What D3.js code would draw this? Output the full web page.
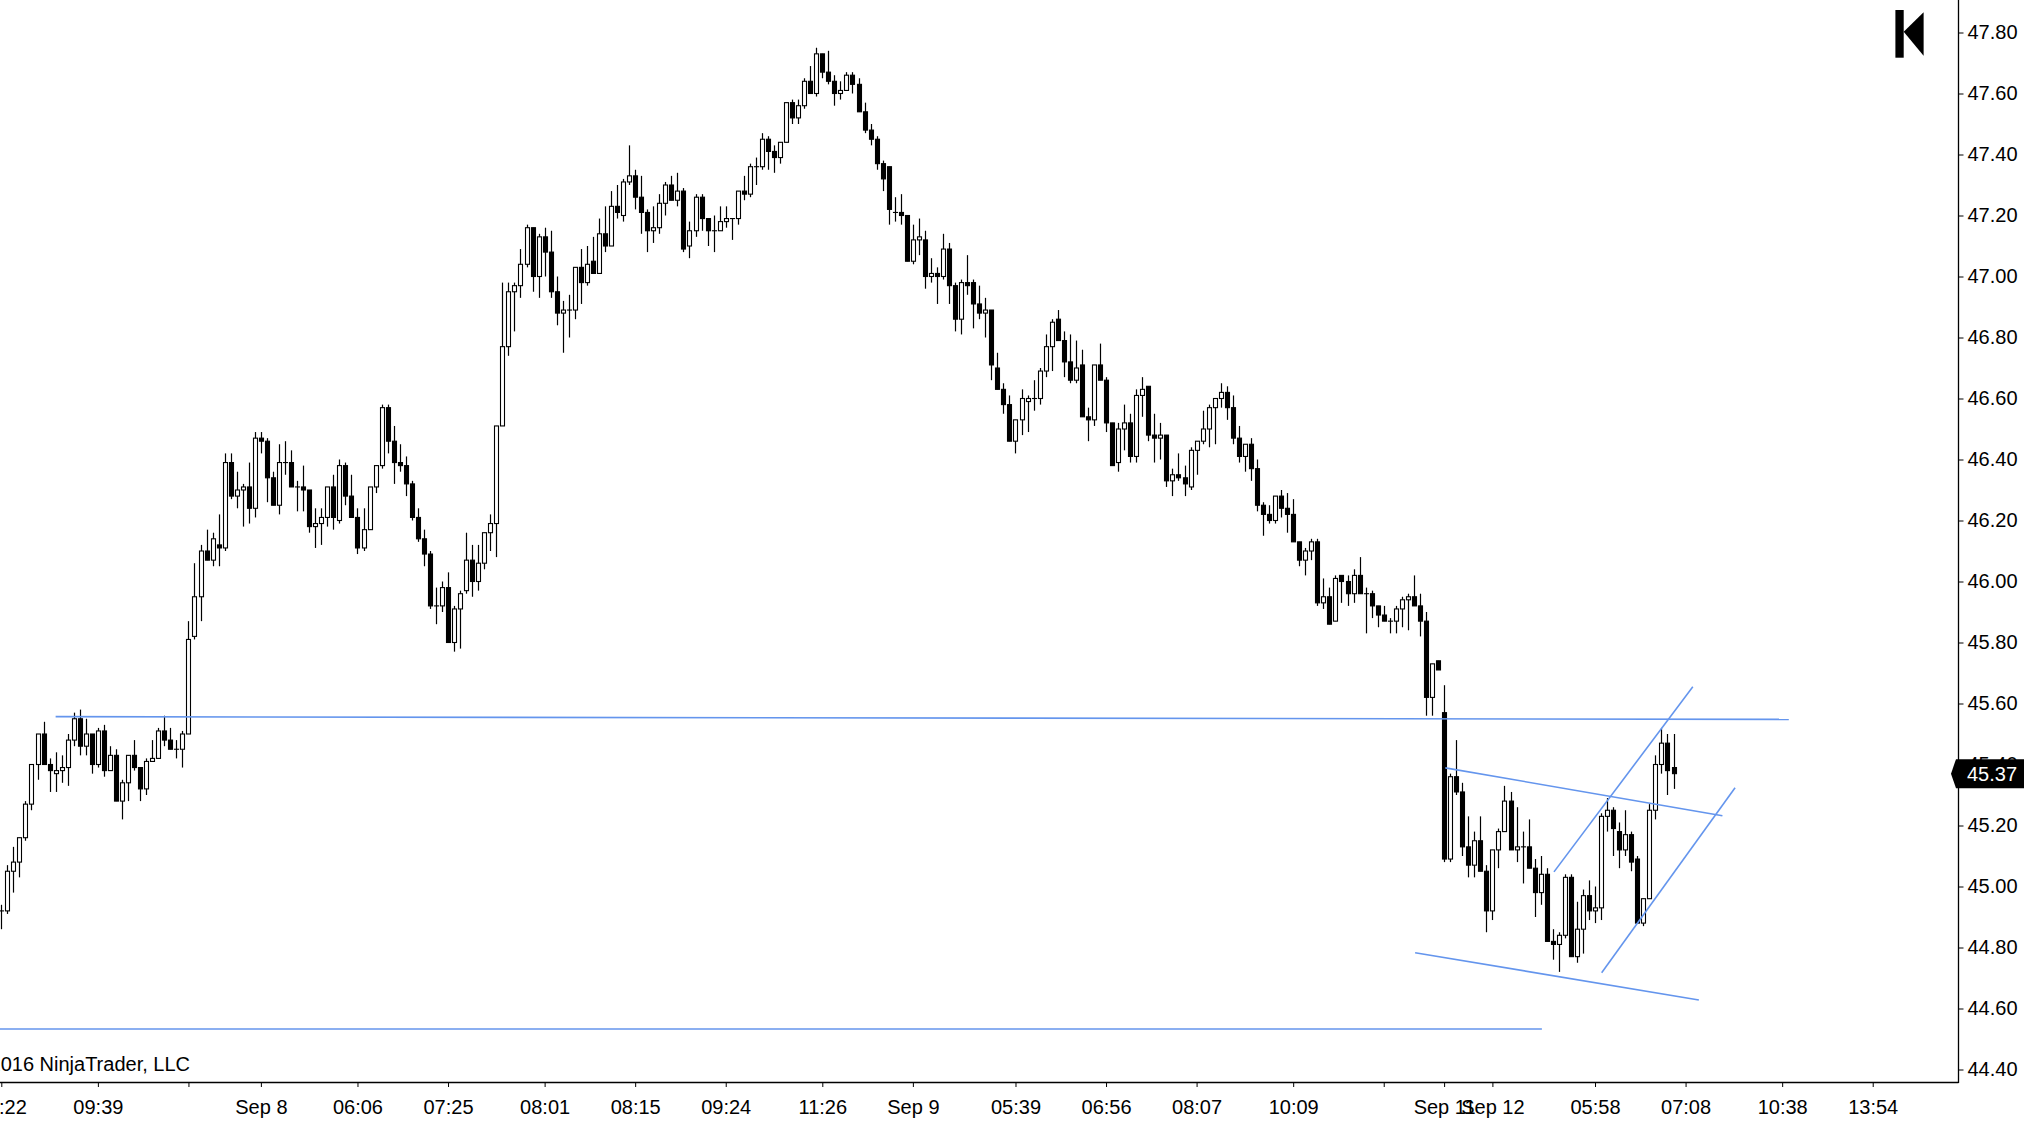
<!DOCTYPE html>
<html>
<head>
<meta charset="utf-8">
<script src="https://cdn.jsdelivr.net/npm/d3@7"></script>
<style>
  html, body { margin: 0; padding: 0; background: #fff; }
  svg { display: block; }
  .axis text { font-family: "Liberation Sans", Arial, sans-serif; font-size: 20px; fill: #000; }
  .axis line { stroke: #000; }
</style>
</head>
<body>
<div class="chart"></div>
<script>
/* bar data (one bar per index) */
const opens = [
  44.92,44.92,45.05,45.08,45.16,45.27,45.40,45.50,45.40,45.37,
  45.38,45.39,45.48,45.55,45.46,45.50,45.40,45.51,45.38,45.43,
  45.28,45.34,45.43,45.39,45.32,45.41,45.42,45.51,45.48,45.45,
  45.45,45.50,45.82,45.95,46.10,46.07,46.12,46.11,46.39,46.28,
  46.30,46.31,46.24,46.47,46.46,46.34,46.25,46.39,46.39,46.31,
  46.31,46.30,46.18,46.19,46.21,46.31,46.20,46.38,46.28,46.21,
  46.11,46.17,46.31,46.38,46.57,46.46,46.39,46.38,46.32,46.21,
  46.14,46.09,45.92,45.92,45.98,45.80,45.91,45.97,46.07,46.00,
  46.06,46.16,46.19,46.51,46.77,46.95,46.97,47.04,47.16,47.00,
  47.13,47.08,46.95,46.88,46.89,46.89,47.03,46.98,47.05,47.01,
  47.14,47.10,47.23,47.20,47.31,47.33,47.26,47.21,47.15,47.16,
  47.24,47.30,47.25,47.28,47.10,47.15,47.26,47.19,47.15,47.15,
  47.18,47.19,47.19,47.28,47.27,47.36,47.36,47.45,47.41,47.39,
  47.44,47.57,47.52,47.56,47.64,47.60,47.73,47.67,47.64,47.60,
  47.61,47.66,47.63,47.54,47.48,47.45,47.37,47.36,47.21,47.21,
  47.20,47.05,47.12,47.12,47.00,47.01,47.00,47.09,46.97,46.86,
  46.98,46.98,46.91,46.88,46.89,46.70,46.63,46.58,46.46,46.53,
  46.59,46.60,46.60,46.69,46.77,46.86,46.79,46.72,46.66,46.71,
  46.54,46.53,46.71,46.66,46.52,46.39,46.50,46.52,46.41,46.61,
  46.64,46.48,46.47,46.48,46.33,46.35,46.34,46.31,46.43,46.46,
  46.50,46.57,46.60,46.62,46.57,46.47,46.41,46.45,46.37,46.25,
  46.22,46.20,46.28,46.24,46.22,46.13,46.07,46.10,46.13,45.93,
  45.95,45.87,46.02,46.00,45.96,46.02,45.96,45.96,45.92,45.89,
  45.87,45.87,45.91,45.94,45.95,45.92,45.87,45.62,45.74,45.57,
  45.09,45.36,45.31,45.13,45.07,45.15,45.05,44.92,45.12,45.18,
  45.28,45.12,45.13,45.13,45.06,44.98,45.04,44.82,44.81,44.84,
  45.03,44.77,44.86,44.97,44.92,44.93,45.23,45.25,45.18,45.12,
  45.17,45.09,44.88,44.96,45.25,45.40,45.47,45.39
];
const highs = [
  44.94,45.07,45.13,45.16,45.28,45.40,45.50,45.54,45.42,45.44,
  45.43,45.50,45.57,45.58,45.55,45.50,45.52,45.53,45.46,45.45,
  45.35,45.43,45.48,45.39,45.42,45.48,45.52,45.56,45.52,45.48,
  45.51,45.87,46.06,46.12,46.17,46.16,46.22,46.42,46.42,46.36,
  46.32,46.39,46.49,46.49,46.47,46.36,46.45,46.46,46.43,46.33,
  46.38,46.30,46.24,46.24,46.31,46.35,46.40,46.39,46.35,46.24,
  46.24,46.31,46.38,46.58,46.58,46.51,46.45,46.41,46.33,46.24,
  46.17,46.10,45.98,46.00,46.03,45.92,45.97,46.16,46.12,46.12,
  46.16,46.22,46.51,46.98,46.98,46.98,47.09,47.17,47.16,47.14,
  47.16,47.15,47.00,46.92,46.94,47.03,47.09,47.10,47.13,47.19,
  47.23,47.28,47.30,47.32,47.43,47.35,47.33,47.22,47.23,47.27,
  47.31,47.33,47.34,47.29,47.18,47.27,47.27,47.19,47.20,47.23,
  47.23,47.19,47.28,47.33,47.37,47.39,47.47,47.46,47.43,47.44,
  47.57,47.58,47.58,47.65,47.69,47.75,47.73,47.74,47.66,47.64,
  47.67,47.67,47.65,47.57,47.50,47.46,47.38,47.36,47.26,47.27,
  47.20,47.17,47.19,47.15,47.06,47.03,47.14,47.11,46.98,46.99,
  47.07,46.99,46.97,46.93,46.89,46.75,46.65,46.61,46.53,46.63,
  46.61,46.66,46.70,46.81,46.86,46.89,46.82,46.81,46.79,46.76,
  46.57,46.71,46.78,46.67,46.52,46.52,46.58,46.55,46.63,46.67,
  46.64,46.55,46.52,46.48,46.37,46.42,46.38,46.44,46.46,46.56,
  46.58,46.60,46.65,46.64,46.61,46.51,46.45,46.47,46.40,46.26,
  46.25,46.28,46.30,46.29,46.27,46.13,46.11,46.14,46.14,46.01,
  45.98,46.02,46.02,46.02,46.04,46.08,45.98,45.97,45.92,45.92,
  45.88,45.92,45.95,45.96,46.02,45.96,45.90,45.73,45.74,45.66,
  45.37,45.48,45.34,45.23,45.18,45.23,45.07,45.12,45.19,45.33,
  45.31,45.26,45.18,45.22,45.09,45.10,45.06,44.86,44.85,45.04,
  45.04,44.95,44.99,45.02,45.00,45.24,45.29,45.26,45.21,45.25,
  45.18,45.10,44.96,45.27,45.43,45.52,45.50,45.50
];
const lows = [
  44.86,44.91,44.98,45.03,45.15,45.25,45.35,45.40,45.31,45.31,
  45.34,45.33,45.46,45.43,45.43,45.37,45.39,45.36,45.38,45.28,
  45.22,45.28,45.38,45.28,45.30,45.41,45.42,45.46,45.45,45.42,
  45.39,45.50,45.81,45.87,46.07,46.05,46.05,46.10,46.27,46.24,
  46.18,46.19,46.21,46.42,46.26,46.25,46.22,46.35,46.31,46.23,
  46.23,46.16,46.11,46.12,46.18,46.17,46.19,46.25,46.21,46.09,
  46.10,46.17,46.29,46.37,46.42,46.32,46.36,46.28,46.20,46.13,
  46.05,45.91,45.86,45.90,45.80,45.77,45.78,45.96,45.95,45.97,
  46.04,46.10,46.08,46.51,46.74,46.82,46.93,47.03,46.95,46.93,
  47.00,46.93,46.84,46.75,46.80,46.86,46.91,46.97,47.01,47.01,
  47.08,47.10,47.19,47.18,47.30,47.22,47.14,47.08,47.11,47.14,
  47.20,47.25,47.23,47.08,47.06,47.13,47.15,47.10,47.08,47.15,
  47.16,47.12,47.17,47.25,47.26,47.30,47.35,47.35,47.34,47.37,
  47.44,47.50,47.50,47.55,47.60,47.59,47.65,47.63,47.56,47.58,
  47.61,47.60,47.54,47.47,47.43,47.35,47.28,47.17,47.18,47.17,
  47.05,47.04,47.07,46.96,46.98,46.91,46.99,46.91,46.82,46.81,
  46.94,46.83,46.86,46.80,46.66,46.63,46.55,46.46,46.42,46.48,
  46.49,46.56,46.58,46.67,46.69,46.79,46.67,46.65,46.65,46.54,
  46.46,46.51,46.66,46.49,46.38,46.36,46.43,46.39,46.39,46.54,
  46.46,46.39,46.40,46.31,46.28,46.33,46.28,46.30,46.35,46.45,
  46.44,46.45,46.57,46.53,46.45,46.39,46.36,46.33,46.23,46.15,
  46.19,46.19,46.21,46.16,46.13,46.05,46.02,46.07,45.92,45.91,
  45.86,45.87,45.93,45.92,45.93,45.96,45.83,45.88,45.85,45.87,
  45.83,45.83,45.85,45.84,45.92,45.82,45.56,45.56,45.71,45.08,
  45.08,45.30,45.10,45.03,45.03,45.05,44.85,44.89,45.06,45.18,
  45.12,45.08,45.01,45.06,44.90,44.94,44.82,44.76,44.72,44.83,
  44.77,44.75,44.78,44.89,44.88,44.89,45.18,45.10,45.06,45.10,
  45.05,44.88,44.87,44.96,45.22,45.37,45.30,45.32
];
const closes = [
  44.92,45.05,45.08,45.16,45.27,45.40,45.50,45.40,45.38,45.38,
  45.39,45.48,45.55,45.46,45.50,45.40,45.51,45.38,45.43,45.28,
  45.34,45.43,45.39,45.32,45.41,45.42,45.51,45.48,45.45,45.45,
  45.50,45.81,45.95,46.10,46.07,46.14,46.11,46.39,46.28,46.30,
  46.31,46.24,46.47,46.46,46.34,46.25,46.39,46.39,46.31,46.31,
  46.30,46.18,46.19,46.21,46.31,46.21,46.38,46.28,46.21,46.11,
  46.17,46.31,46.38,46.57,46.46,46.39,46.38,46.32,46.21,46.14,
  46.09,45.92,45.92,45.98,45.80,45.91,45.96,46.07,46.00,46.06,
  46.16,46.19,46.51,46.77,46.95,46.97,47.04,47.16,47.00,47.13,
  47.08,46.95,46.88,46.89,46.89,47.03,46.98,47.04,47.01,47.14,
  47.10,47.23,47.21,47.31,47.33,47.26,47.21,47.15,47.16,47.24,
  47.30,47.25,47.28,47.09,47.15,47.26,47.19,47.15,47.15,47.18,
  47.19,47.19,47.28,47.27,47.36,47.36,47.45,47.41,47.39,47.44,
  47.57,47.52,47.56,47.64,47.60,47.73,47.67,47.64,47.60,47.61,
  47.66,47.63,47.54,47.48,47.45,47.37,47.32,47.22,47.21,47.20,
  47.05,47.12,47.13,47.00,47.01,47.00,47.09,46.97,46.86,46.98,
  46.97,46.91,46.88,46.89,46.71,46.63,46.58,46.46,46.53,46.60,
  46.60,46.60,46.69,46.77,46.85,46.79,46.72,46.66,46.70,46.54,
  46.53,46.71,46.66,46.52,46.38,46.50,46.52,46.41,46.61,46.63,
  46.48,46.47,46.48,46.33,46.35,46.34,46.32,46.43,46.46,46.50,
  46.57,46.60,46.62,46.57,46.47,46.41,46.45,46.37,46.25,46.22,
  46.20,46.28,46.24,46.22,46.13,46.07,46.10,46.13,45.93,45.95,
  45.86,46.01,46.00,45.96,46.02,45.96,45.96,45.92,45.89,45.87,
  45.87,45.91,45.94,45.95,45.92,45.87,45.62,45.73,45.71,45.09,
  45.36,45.31,45.13,45.07,45.15,45.05,44.92,45.12,45.18,45.28,
  45.12,45.13,45.13,45.06,44.98,45.04,44.82,44.81,44.84,45.03,
  44.77,44.86,44.97,44.92,44.93,45.23,45.25,45.19,45.12,45.17,
  45.08,44.88,44.96,45.25,45.40,45.47,45.38,45.37
];

/* time axis: tick position (bar index) and label */
const xTickBars   = [0, 16, 31, 43, 59, 74, 90, 105, 120, 136, 151, 168, 183, 198, 214, 229, 239, 247, 264, 279, 295, 310];
const xTickLabels = ["08:22", "09:39", "", "Sep 8", "06:06", "07:25", "08:01", "08:15", "09:24", "11:26", "Sep 9",
                     "05:39", "06:56", "08:07", "10:09", "", "Sep 11", "Sep 12", "05:58", "07:08", "10:38", "13:54"];

/* price axis ticks */
const yTicks = [44.40, 44.60, 44.80, 45.00, 45.20, 45.40, 45.60, 45.80, 46.00, 46.20,
                46.40, 46.60, 46.80, 47.00, 47.20, 47.40, 47.60, 47.80];

/* drawn lines: start bar, start price, end bar, end price */
const lineStartBar   = [9, -1, 239.2, 234.2, 257.2, 265.1];
const lineStartPrice = [45.557, 44.533, 45.389, 44.783, 45.048, 44.717];
const lineEndBar     = [296.1, 255.2, 285.1, 281.2, 280.2, 287.2];
const lineEndPrice   = [45.548, 44.533, 45.232, 44.628, 45.655, 45.324];

const copyrightText = "\u00a9 2016 NinjaTrader, LLC";

/* canvas */
const svg_width = 2024;
const svg_height = 1124;
const plot_right = 1958;   // price axis line
const plot_bottom = 1082;  // time axis line

const svg = d3.select(".chart").append("svg")
              .attr("width", svg_width)
              .attr("height", svg_height);

svg.append("defs").append("clipPath").attr("id", "plotClip")
   .append("rect").attr("x", 0).attr("y", 0)
   .attr("width", plot_right).attr("height", plot_bottom);

/* scales */
const xScale = d3.scaleLinear().domain([0, 277]).range([1.3, 1673.5]);
const yScale = d3.scaleLinear().domain([44.4, 47.8]).range([1069.5, 32.5]);

const bars = closes.map((c, i) => ({
    i: i, o: opens[i], h: highs[i], l: lows[i], c: c
}));

const plot = svg.append("g").attr("clip-path", "url(#plotClip)");

/* candles */
const candle = plot.append("g").attr("class", "candles")
                   .selectAll("g").data(bars).join("g");

candle.append("line")
      .attr("x1", d => Math.round(xScale(d.i)) + 0.5)
      .attr("x2", d => Math.round(xScale(d.i)) + 0.5)
      .attr("y1", d => yScale(d.h))
      .attr("y2", d => yScale(d.l))
      .attr("stroke", "#000").attr("stroke-width", 1.2);

candle.append("rect")
      .attr("x", d => Math.round(xScale(d.i)) + 0.5 - 2)
      .attr("width", 4)
      .attr("y", d => yScale(Math.max(d.o, d.c)))
      .attr("height", d => Math.max(0.01, Math.abs(yScale(d.o) - yScale(d.c))))
      .attr("fill", d => d.c >= d.o ? "#fff" : "#000")
      .attr("stroke", "#000").attr("stroke-width", 1.1);

/* drawing tool lines */
plot.append("g").attr("class", "drawings")
    .selectAll("line").data(lineStartBar).join("line")
    .attr("x1", (d, i) => xScale(d))
    .attr("y1", (d, i) => yScale(lineStartPrice[i]))
    .attr("x2", (d, i) => xScale(lineEndBar[i]))
    .attr("y2", (d, i) => yScale(lineEndPrice[i]))
    .attr("stroke", "#6495ED").attr("stroke-width", 1.6);

/* copyright */
svg.append("text")
   .attr("x", 190).attr("y", 1071)
   .attr("text-anchor", "end")
   .style("font-family", "'Liberation Sans', Arial, sans-serif")
   .style("font-size", "20px")
   .text(copyrightText);

/* x axis */
const xAxis = d3.axisBottom(xScale)
                .tickValues(xTickBars)
                .tickFormat((d, i) => xTickLabels[i])
                .tickSizeInner(5).tickSizeOuter(0).tickPadding(13);
const xAxisDraw = svg.append("g").attr("class", "x axis")
                     .attr("transform", `translate(0,${plot_bottom})`)
                     .call(xAxis);
xAxisDraw.select(".domain").remove();
xAxisDraw.style("font-family", null).style("font-size", null);
svg.append("line")
   .attr("x1", 0).attr("x2", plot_right + 0.5)
   .attr("y1", plot_bottom + 0.5).attr("y2", plot_bottom + 0.5)
   .attr("stroke", "#000").attr("stroke-width", 1.3);

/* y axis */
const yAxis = d3.axisRight(yScale)
                .tickValues(yTicks)
                .tickFormat(d => d.toFixed(2))
                .tickSizeInner(5).tickSizeOuter(0).tickPadding(4);
const yAxisDraw = svg.append("g").attr("class", "y axis")
                     .attr("transform", `translate(${plot_right + 0.5},0)`)
                     .call(yAxis);
yAxisDraw.select(".domain").remove();
yAxisDraw.style("font-family", null).style("font-size", null);
svg.append("line")
   .attr("x1", plot_right + 0.5).attr("x2", plot_right + 0.5)
   .attr("y1", 0).attr("y2", plot_bottom + 1)
   .attr("stroke", "#000").attr("stroke-width", 1.3);

/* last price marker */
const lastPrice = closes[closes.length - 1];
const ly = yScale(lastPrice);
const marker = svg.append("g").attr("class", "last-price");
marker.append("path")
      .attr("d", `M1951,${ly} L1956,${ly - 14.5} L${svg_width},${ly - 14.5} L${svg_width},${ly + 14.5} L1956,${ly + 14.5} Z`)
      .attr("fill", "#000");
marker.append("text")
      .attr("x", 1967).attr("y", ly).attr("dy", "0.36em")
      .style("font-family", "'Liberation Sans', Arial, sans-serif")
      .style("font-size", "20px")
      .attr("fill", "#fff")
      .text(lastPrice.toFixed(2));

/* logo top right */
const logo = svg.append("g").attr("class", "logo").attr("fill", "#000");
logo.append("rect").attr("x", 1895.4).attr("y", 10).attr("width", 8.3).attr("height", 47.7);
logo.append("path").attr("d", "M1903.7,31.7 L1923.6,12.3 L1923.6,55.7 Z");
</script>
</body>
</html>
